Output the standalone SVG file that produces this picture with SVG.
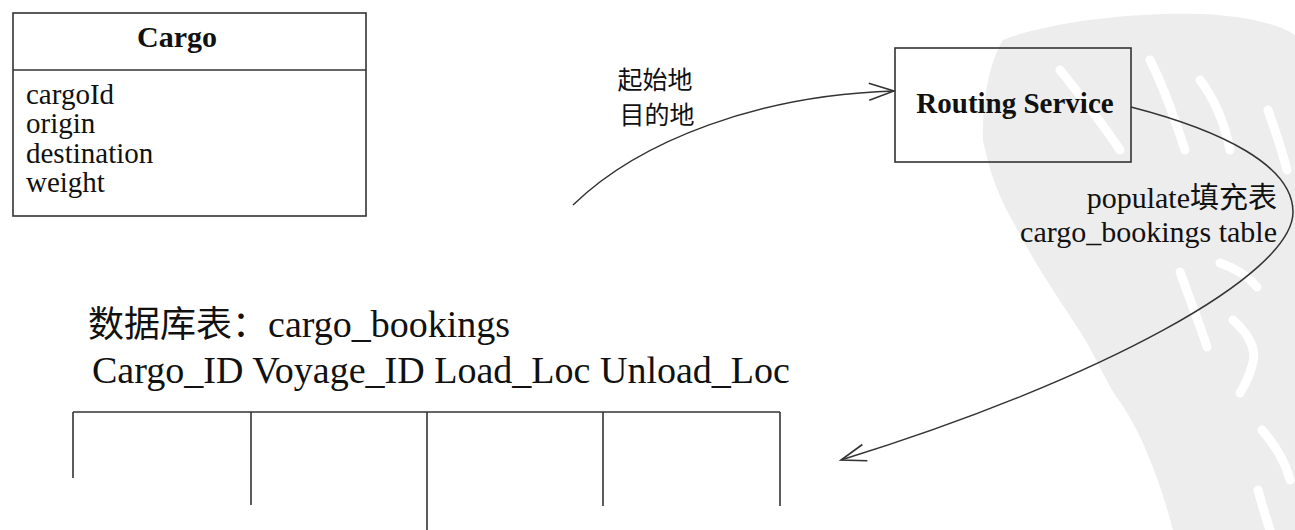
<svg xmlns="http://www.w3.org/2000/svg" width="1295" height="530" viewBox="0 0 1295 530">
<style>
.bg{fill:#ffffff}
.wm{fill:#ededed;stroke:none}
.wms{fill:none;stroke:#ffffff;stroke-width:9;stroke-linecap:round;stroke-linejoin:round}
.box{fill:none;stroke:#333333;stroke-width:1.6}
.ln{fill:none;stroke:#333333;stroke-width:1.6}
.con{fill:none;stroke:#333333;stroke-width:1.5}
.t{font-family:"Liberation Serif","Noto Sans CJK SC",serif;fill:#111111}
.cjk{font-family:"Noto Sans CJK SC","Liberation Serif",sans-serif;fill:#111111}
.b{font-weight:bold}
</style>
<defs>
<marker id="open" markerUnits="userSpaceOnUse" viewBox="-30 -12 32 24" refX="0" refY="0" markerWidth="32" markerHeight="24" orient="auto">
<path d="M-25,-8.5 L0,0 L-25,8.5" fill="none" stroke="#333333" stroke-width="1.6"/>
</marker>
</defs>
<rect class="bg" x="0" y="0" width="1295" height="530"/>
<g id="watermark">
<path class="wm" d="M1003,40 C1040,25 1120,12 1200,14 C1250,16 1280,25 1295,35 L1295,530 L1173,530 C1165,500 1158,480 1150,460 C1140,435 1130,415 1115,395 C1100,370 1090,345 1077,327 C1060,300 1035,265 1015,225 C1000,200 990,175 983,140 C982,100 990,60 1003,40 Z"/>
<path class="wms" d="M1060,70 C1080,95 1100,120 1120,150"/>
<path class="wms" d="M1150,60 C1165,90 1175,120 1185,150"/>
<path class="wms" d="M1200,80 C1215,100 1225,125 1230,150"/>
<path class="wms" d="M1268,110 C1275,130 1282,150 1287,170"/>
<path class="wms" d="M1180,272 C1190,300 1200,325 1207,347"/>
<path class="wms" d="M1220,263 C1235,268 1248,276 1257,287"/>
<path class="wms" d="M1233,320 C1250,335 1256,350 1253,362 C1250,375 1245,385 1240,393"/>
<path class="wms" d="M1262,430 C1275,445 1285,460 1290,480"/>
<path class="wms" d="M1258,490 C1262,505 1266,518 1270,530"/>
</g>
<g id="cargo">
<rect class="box" x="13" y="13" width="353" height="203"/>
<line class="ln" x1="13" y1="70" x2="366" y2="70"/>
<text class="t b" x="177" y="47" font-size="30" text-anchor="middle">Cargo</text>
<text class="t" x="26" y="104" font-size="29">cargoId</text>
<text class="t" x="26" y="133" font-size="29">origin</text>
<text class="t" x="26" y="163" font-size="29">destination</text>
<text class="t" x="26" y="192" font-size="29">weight</text>
</g>
<g id="routing-service">
<rect class="box" x="895" y="48" width="236" height="114"/>
<text class="t b" x="1015" y="113" font-size="29" text-anchor="middle">Routing Service</text>
</g>
<g id="cargo-bookings-table">
<text class="t" x="88" y="337" font-size="38"><tspan class="cjk" font-size="36">数据库表：</tspan>cargo_bookings</text>
<text class="t" x="92" y="383" font-size="38" textLength="698" lengthAdjust="spacingAndGlyphs">Cargo_ID Voyage_ID Load_Loc Unload_Loc</text>
<line class="ln" x1="73" y1="412" x2="780" y2="412"/>
<line class="ln" x1="73" y1="412" x2="73" y2="478"/>
<line class="ln" x1="251" y1="412" x2="251" y2="505"/>
<line class="ln" x1="427" y1="412" x2="427" y2="530"/>
<line class="ln" x1="603" y1="412" x2="603" y2="506"/>
<line class="ln" x1="780" y1="412" x2="780" y2="506"/>
</g>
<g id="connectors">
<path class="con" d="M573,205 C640,140 760,95 894,91" marker-end="url(#open)"/>
<path class="con" d="M1131,107 C1220,130 1293,165 1293,212 C1293,275 1100,380 841,460" marker-end="url(#open)"/>
<text class="cjk" x="655" y="89" font-size="25" text-anchor="middle">起始地</text>
<text class="cjk" x="657" y="124" font-size="25" text-anchor="middle">目的地</text>
<text class="t" x="1277" y="208" font-size="30" text-anchor="end">populate<tspan class="cjk" font-size="29">填充表</tspan></text>
<text class="t" x="1277" y="242" font-size="30" text-anchor="end">cargo_bookings table</text>
</g>
</svg>
